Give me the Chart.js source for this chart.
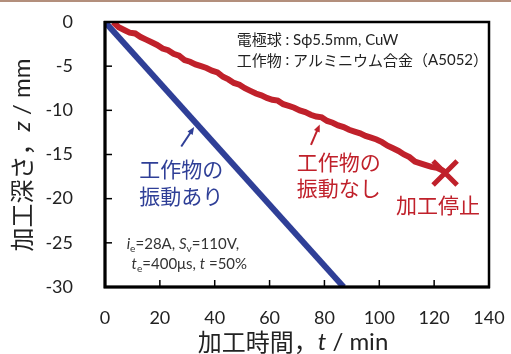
<!DOCTYPE html>
<html>
<head>
<meta charset="utf-8">
<script src="https://cdn.jsdelivr.net/npm/chart.js@4.4.1/dist/chart.umd.min.js"></script>
<style>
    html, body { margin: 0; padding: 0; background: #fff; }
</style>
</head>
<body>
<canvas id="chart" width="511" height="354"></canvas>
<script>
// Machining depth vs time (no vibration of the workpiece)
const timeNoVib = [3, 5, 7, 9, 11, 13, 15, 17, 19, 21, 23, 25, 27, 29, 31, 33, 35, 37, 39, 41,
    43, 45, 47, 49, 51, 53, 55, 57, 59, 61, 63, 65, 67, 69, 71, 73, 75, 77, 79, 81,
    83, 85, 87, 89, 91, 93, 95, 97, 99, 101, 103, 105, 107, 109, 111, 113, 115, 117, 119, 121, 123, 124];
const depthNoVib = [0, -0.6, -0.9, -1.2, -1.3, -1.7, -2.0, -2.3, -2.6, -3.0, -3.2, -3.6, -3.8, -4.3, -4.5, -4.8, -5.0, -5.2, -5.5, -5.7,
    -6.2, -6.5, -6.9, -7.1, -7.5, -7.8, -8.1, -8.3, -8.6, -8.8, -8.9, -9.3, -9.5, -9.7, -10.0, -10.2, -10.5, -10.7, -10.8, -11.2,
    -11.4, -11.7, -11.9, -12.2, -12.4, -12.6, -12.9, -13.1, -13.3, -13.6, -14.0, -14.3, -14.6, -15.0, -15.3, -15.8, -16.0, -16.2, -16.4, -16.5, -16.8, -17.0];

// With vibration of the workpiece
const timeVib = [0, 87];
const depthVib = [0, -30];

// Machining stopped
const stopTime = [124];
const stopDepth = [-17.1];

const RED = '#c0212b';
const BLUE = '#2f3f97';
const JP = '"Noto Sans CJK JP", sans-serif';
const LAT = 'Lato, "Noto Sans", sans-serif';

const toPoints = (xs, ys) => xs.map((v, i) => ({ x: v, y: ys[i] }));

// draw a row of text runs with mixed fonts (italic, subscript)
function drawRuns(ctx, runs, x, y, size, align, color) {
    const fontOf = (r) => {
        const s = r.sub ? size * 0.68 : size;
        return `${r.italic ? 'italic ' : ''}${s}px ${r.family || LAT}`;
    };
    let total = 0;
    runs.forEach((r) => {
        ctx.font = fontOf(r);
        r.w = ctx.measureText(r.text).width;
        total += r.w;
    });
    let cx = align === 'center' ? x - total / 2 : x;
    ctx.fillStyle = color;
    ctx.textAlign = 'left';
    ctx.textBaseline = 'middle';
    runs.forEach((r) => {
        ctx.font = fontOf(r);
        ctx.fillText(r.text, cx, r.sub ? y + size * 0.3 : y);
        cx += r.w;
    });
}

function drawArrow(ctx, x0, y0, x1, y1, color) {
    const ang = Math.atan2(y1 - y0, x1 - x0);
    const head = 8;
    ctx.strokeStyle = color;
    ctx.fillStyle = color;
    ctx.lineWidth = 2;
    ctx.beginPath();
    ctx.moveTo(x0, y0);
    ctx.lineTo(x1 - Math.cos(ang) * head * 0.8, y1 - Math.sin(ang) * head * 0.8);
    ctx.stroke();
    ctx.beginPath();
    ctx.moveTo(x1, y1);
    ctx.lineTo(x1 - head * Math.cos(ang - 0.4), y1 - head * Math.sin(ang - 0.4));
    ctx.lineTo(x1 - head * Math.cos(ang + 0.4), y1 - head * Math.sin(ang + 0.4));
    ctx.closePath();
    ctx.fill();
}

// keep tick label overflow from shrinking the plot area
const noScalePadding = (scale) => {
    scale.paddingLeft = 0;
    scale.paddingRight = 0;
    scale.paddingTop = 0;
    scale.paddingBottom = 0;
};

const overlay = {
    id: 'overlay',
    afterDraw: (chart) => {
        const { ctx, chartArea: a, scales } = chart;
        const sx = scales.x;
        const sy = scales.y;
        const P = (t, z) => [sx.getPixelForValue(t), sy.getPixelForValue(z)];
        ctx.save();

        // thin rule along the top of the figure
        ctx.strokeStyle = '#b38f7c';
        ctx.lineWidth = 2;
        ctx.beginPath();
        ctx.moveTo(0, 1);
        ctx.lineTo(511, 1);
        ctx.stroke();

        // plot frame
        ctx.strokeStyle = '#000';
        ctx.lineWidth = 2.5;
        ctx.strokeRect(a.left, a.top, a.right - a.left, a.bottom - a.top);
        ctx.lineWidth = 3;
        ctx.beginPath();
        ctx.moveTo(a.left, a.top - 1);
        ctx.lineTo(a.left, a.bottom);
        ctx.lineTo(a.right + 1, a.bottom);
        ctx.stroke();

        // inward tick marks
        ctx.lineWidth = 1.5;
        sx.ticks.forEach((t) => {
            const px = sx.getPixelForValue(t.value);
            ctx.beginPath();
            ctx.moveTo(px, a.bottom);
            ctx.lineTo(px, a.bottom - 7);
            ctx.stroke();
        });
        sy.ticks.forEach((t) => {
            const py = sy.getPixelForValue(t.value);
            ctx.beginPath();
            ctx.moveTo(a.left, py);
            ctx.lineTo(a.left + 7, py);
            ctx.stroke();
        });

        // axis titles
        drawRuns(ctx, [
            { text: '加工時間，', family: JP },
            { text: 't', italic: true },
            { text: ' / min' },
        ], 293, 342, 24, 'center', '#222');
        ctx.save();
        ctx.translate(22, 155);
        ctx.rotate(-Math.PI / 2);
        drawRuns(ctx, [
            { text: '加工深さ，', family: JP },
            { text: 'z', italic: true },
            { text: ' / mm' },
        ], 0, 0, 24, 'center', '#222');
        ctx.restore();

        // material notes
        let p = P(48, -2.0);
        drawRuns(ctx, [
            { text: '電極球', family: JP },
            { text: ' : ' },
            { text: 'Sϕ5.5mm, CuW' },
        ], p[0], p[1], 15, 'left', '#222');
        p = P(48, -4.37);
        drawRuns(ctx, [
            { text: '工作物', family: JP },
            { text: ' : ' },
            { text: 'アルミニウム合金（', family: JP },
            { text: 'A5052' },
            { text: '）', family: JP },
        ], p[0], p[1], 15, 'left', '#222');

        // series labels
        p = P(27.8, -16.6);
        drawRuns(ctx, [{ text: '工作物の', family: JP }], p[0], p[1], 21, 'center', BLUE);
        p = P(27.8, -19.7);
        drawRuns(ctx, [{ text: '振動あり', family: JP }], p[0], p[1], 21, 'center', BLUE);
        p = P(85.2, -15.8);
        drawRuns(ctx, [{ text: '工作物の', family: JP }], p[0], p[1], 21, 'center', RED);
        p = P(85.2, -18.8);
        drawRuns(ctx, [{ text: '振動なし', family: JP }], p[0], p[1], 21, 'center', RED);
        p = P(121.4, -20.7);
        drawRuns(ctx, [{ text: '加工停止', family: JP }], p[0], p[1], 21, 'center', RED);

        // arrows to the curves
        drawArrow(ctx, ...P(27.8, -14.1), ...P(32.5, -11.9), BLUE);
        drawArrow(ctx, ...P(75.1, -13.9), ...P(78.3, -11.6), RED);

        // machining conditions
        p = P(7.9, -25.2);
        drawRuns(ctx, [
            { text: 'i', italic: true },
            { text: 'e', sub: true },
            { text: '=28A, ' },
            { text: 'S', italic: true },
            { text: 'v', sub: true },
            { text: '=110V,' },
        ], p[0], p[1], 15, 'left', '#333');
        p = P(9.7, -27.4);
        drawRuns(ctx, [
            { text: 't', italic: true },
            { text: 'e', sub: true },
            { text: '=400μs, ' },
            { text: 't', italic: true },
            { text: ' =50%' },
        ], p[0], p[1], 15, 'left', '#333');

        ctx.restore();
    },
};

new Chart(document.getElementById('chart'), {
    type: 'line',
    data: {
        datasets: [
            {
                label: '工作物の振動なし',
                data: toPoints(timeNoVib, depthNoVib),
                borderColor: RED,
                borderWidth: 6,
                pointRadius: 0,
                tension: 0,
                order: 1,
            },
            {
                label: '工作物の振動あり',
                data: toPoints(timeVib, depthVib),
                borderColor: BLUE,
                borderWidth: 6,
                pointRadius: 0,
                tension: 0,
                order: 2,
            },
            {
                label: '加工停止',
                data: toPoints(stopTime, stopDepth),
                showLine: false,
                pointStyle: 'crossRot',
                pointRadius: 17,
                pointBorderWidth: 5,
                pointBorderColor: RED,
                order: 0,
            },
        ],
    },
    plugins: [overlay],
    options: {
        responsive: false,
        animation: false,
        devicePixelRatio: 1,
        layout: { padding: { top: 19, right: 18, left: 0, bottom: 0 } },
        plugins: {
            legend: { display: false },
            tooltip: { enabled: false },
        },
        scales: {
            x: {
                type: 'linear',
                min: 0,
                max: 140,
                grid: { display: false, drawTicks: false },
                border: { display: false },
                ticks: {
                    stepSize: 20,
                    padding: 20,
                    color: '#222',
                    font: { family: LAT, size: 18 },
                    maxRotation: 0,
                },
                afterFit: (scale) => {
                    scale.height = 67;
                    noScalePadding(scale);
                },
            },
            y: {
                type: 'linear',
                min: -30,
                max: 0,
                grid: { display: false, drawTicks: false },
                border: { display: false },
                ticks: {
                    stepSize: 5,
                    padding: 32,
                    color: '#222',
                    font: { family: LAT, size: 18 },
                },
                afterFit: (scale) => {
                    scale.width = 105;
                    noScalePadding(scale);
                },
            },
        },
    },
});
</script>
</body>
</html>
